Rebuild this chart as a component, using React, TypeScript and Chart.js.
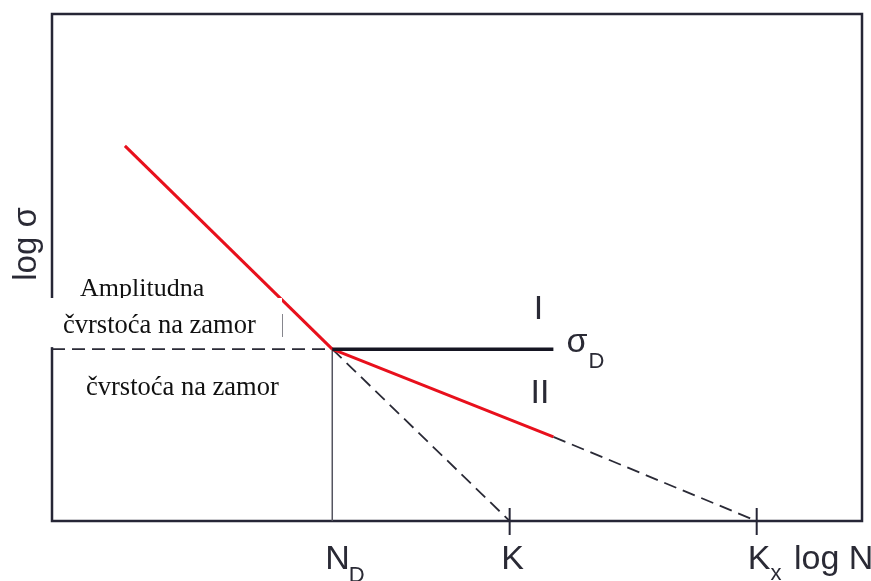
import React, { useEffect, useRef } from "react";
import { Chart, registerables } from "chart.js";

Chart.register(...registerables);

// Key positions on the log N axis (arbitrary log units 0..10)
const ND = 3.46;
const K = 5.65;
const KX = 8.7;
const CURVE_START_X = 0.9;
const CURVE_END_X = 6.19;

// log sigma values
const SIGMA_START = 7.4;
const SIGMA_D = 3.39;
const SIGMA_END = 1.66;

const X_LABELS = ["N", "K", "K"];
const X_SUBS = ["D", "", "x"];
const X_AXIS_TITLE = "log N";
const Y_AXIS_TITLE = "log σ";
const REGION_LABELS = ["I", "II"];
const SIGMA_LABEL = "σ";
const SIGMA_SUB = "D";
const TEXT_TOP = "Amplitudna";
const TEXT_MID = "čvrstoća na zamor";
const TEXT_LOW = "čvrstoća na zamor";

const RED = "#e8101c";
const DARK = "#262636";
const DASH = "#2a2a36";

const SANS = '"Liberation Sans", Arial, sans-serif';
const SERIF = '"Liberation Serif", "Times New Roman", serif';

export default function App() {
  const ref = useRef<HTMLCanvasElement | null>(null);

  useEffect(() => {
    if (!ref.current) return;

    const overlay = {
      id: "overlay",
      beforeDatasetsDraw(chart: any) {
        const { ctx, chartArea } = chart;
        ctx.save();
        ctx.strokeStyle = DARK;
        ctx.lineWidth = 2.5;
        ctx.strokeRect(chartArea.left, chartArea.top, chartArea.right - chartArea.left, chartArea.bottom - chartArea.top);
        ctx.restore();
      },
      afterDraw(chart: any) {
        const { ctx, chartArea, scales } = chart;
        const xs = scales.x;
        const ys = scales.y;
        const px = (v: number) => xs.getPixelForValue(v);
        const py = (v: number) => ys.getPixelForValue(v);
        const bottom = chartArea.bottom;
        ctx.save();

        // tick marks at K and Kx
        ctx.strokeStyle = DARK;
        ctx.lineWidth = 2;
        [K, KX].forEach((v) => {
          ctx.beginPath();
          ctx.moveTo(px(v), bottom - 13);
          ctx.lineTo(px(v), bottom + 14);
          ctx.stroke();
        });

        ctx.fillStyle = "#111111";
        ctx.textBaseline = "alphabetic";

        // "Amplitudna" (drawn before patch so its descender is cut)
        ctx.font = `26px ${SERIF}`;
        ctx.textAlign = "left";
        ctx.fillText(TEXT_TOP, 80, 296);

        // partially hidden "I" near the steep branch
        ctx.font = `34px ${SANS}`;
        ctx.fillStyle = "#2a2a35";
        ctx.textAlign = "center";
        ctx.fillText(REGION_LABELS[0], 281, 337);

        // white patch
        ctx.fillStyle = "#ffffff";
        ctx.fillRect(0, 298, 282, py(SIGMA_D) - 300);

        ctx.fillStyle = "#111111";
        ctx.font = `26.5px ${SERIF}`;
        ctx.textAlign = "left";
        ctx.fillText(TEXT_MID, 63, 333);
        ctx.fillText(TEXT_LOW, 86, 395);

        // axis labels
        ctx.fillStyle = "#2a2a35";
        ctx.font = `34px ${SANS}`;
        ctx.textAlign = "left";
        ctx.fillText(X_LABELS[0], px(ND) - 7, 569);
        const nW = ctx.measureText(X_LABELS[0]).width;
        ctx.font = `22px ${SANS}`;
        ctx.fillText(X_SUBS[0], px(ND) - 8 + nW, 582);

        ctx.font = `34px ${SANS}`;
        ctx.textAlign = "center";
        ctx.fillText(X_LABELS[1], px(K) + 3, 569);

        ctx.textAlign = "left";
        ctx.fillText(X_LABELS[2], px(KX) - 9, 569);
        const kW = ctx.measureText(X_LABELS[2]).width;
        ctx.font = `22px ${SANS}`;
        ctx.fillText(X_SUBS[2], px(KX) - 9 + kW, 580);
        ctx.font = `34px ${SANS}`;
        ctx.fillText(X_AXIS_TITLE, 794, 569);

        // y axis title
        ctx.save();
        ctx.translate(36, 244);
        ctx.rotate(-Math.PI / 2);
        ctx.textAlign = "center";
        ctx.font = `33px ${SANS}`;
        ctx.fillText(Y_AXIS_TITLE, 0, 0);
        ctx.restore();

        // region labels
        ctx.textAlign = "center";
        ctx.font = `34px ${SANS}`;
        ctx.fillText(REGION_LABELS[0], 538.5, 319);
        ctx.fillText(REGION_LABELS[1], 540, 403);

        // sigma_D
        ctx.textAlign = "left";
        ctx.fillText(SIGMA_LABEL, px(CURVE_END_X) + 13, 352);
        ctx.font = `22px ${SANS}`;
        ctx.fillText(SIGMA_SUB, px(CURVE_END_X) + 35, 368);

        ctx.restore();
      },
    };

    const seg = (a: [number, number], b: [number, number]) => [
      { x: a[0], y: a[1] },
      { x: b[0], y: b[1] },
    ];

    const chart = new Chart(ref.current, {
      type: "line",
      data: {
        datasets: [
          {
            data: seg([ND, SIGMA_D], [CURVE_END_X, SIGMA_D]),
            borderColor: "#151522",
            borderWidth: 3.5,
            order: 0,
          },
          {
            data: seg([CURVE_START_X, SIGMA_START], [ND, SIGMA_D]),
            borderColor: RED,
            borderWidth: 3,
            order: 1,
          },
          {
            data: seg([ND, SIGMA_D], [CURVE_END_X, SIGMA_END]),
            borderColor: RED,
            borderWidth: 3,
            order: 1,
          },
          {
            data: seg([0, SIGMA_D], [ND, SIGMA_D]),
            borderColor: DASH,
            borderWidth: 1.8,
            borderDash: [13, 7],
            order: 3,
          },
          {
            data: seg([ND, SIGMA_D], [K, 0]),
            borderColor: DASH,
            borderWidth: 1.8,
            borderDash: [13, 7],
            order: 3,
          },
          {
            data: seg([CURVE_END_X, SIGMA_END], [KX, 0]),
            borderColor: DASH,
            borderWidth: 1.8,
            borderDash: [13, 7],
            order: 3,
          },
          {
            data: seg([ND, SIGMA_D], [ND, 0]),
            borderColor: "#555560",
            borderWidth: 1.5,
            order: 4,
          },
        ] as any,
      },
      options: {
        animation: false,
        responsive: false,
        events: [],
        layout: { padding: { left: 52, top: 14, right: 9, bottom: 60 } },
        elements: { point: { radius: 0 }, line: { tension: 0 } },
        plugins: { legend: { display: false }, tooltip: { enabled: false } },
        scales: {
          x: { type: "linear", min: 0, max: 10, display: false },
          y: { type: "linear", min: 0, max: 10, display: false },
        },
      },
      plugins: [overlay],
    });

    return () => chart.destroy();
  }, []);

  return (
    <div style={{ position: "absolute", left: 0, top: 0, width: 871, height: 581, background: "#fff" }}>
      <canvas ref={ref} width={871} height={581} />
    </div>
  );
}
